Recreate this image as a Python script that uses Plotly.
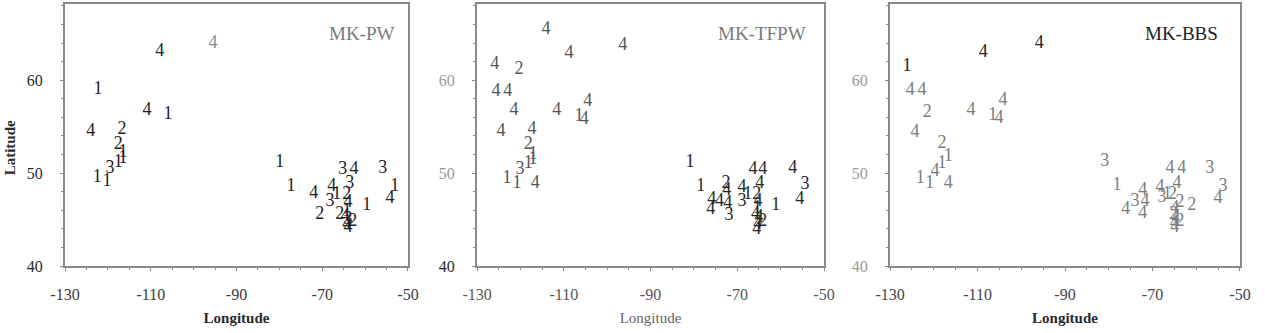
import plotly.graph_objects as go

# ---------------- data ----------------
# Panel 1: MK-PW
pw_lon = [-107.9, -95.5, -122.3, -110.9, -106.0, -124.0, -116.7, -117.6, -116.5, -116.5, -117.6, -119.5, -122.5, -120.2,
          -79.9, -77.3, -72.0, -67.8, -65.2, -62.6, -63.6, -55.9, -53.1, -54.2, -59.6, -66.6, -64.3, -68.2, -70.6,
          -64.0, -64.2, -64.6, -64.0, -64.3, -62.9, -65.9, -64.0]
pw_lat = [63.1, 63.9, 59.0, 56.7, 56.3, 54.5, 54.7, 53.1, 52.2, 51.6, 51.1, 50.5, 49.5, 49.1,
          51.1, 48.6, 47.8, 48.6, 50.4, 50.4, 48.9, 50.5, 48.6, 47.3, 46.5, 47.7, 47.7, 47.0, 45.6,
          46.8, 45.9, 45.3, 45.0, 44.5, 44.8, 45.6, 44.1]
pw_lab = ["4", "4", "1", "4", "1", "4", "2", "2", "1", "1", "1", "3", "1", "1",
          "1", "1", "4", "4", "3", "4", "3", "3", "1", "4", "1", "1", "2", "3", "2",
          "4", "1", "4", "3", "4", "2", "2", "4"]
pw_dark = [1, 0, 1, 1, 1, 1, 1, 1, 1, 1, 1, 1, 1, 1,
           1, 1, 1, 1, 1, 1, 1, 1, 1, 1, 1, 1, 1, 1, 1,
           1, 1, 1, 1, 1, 1, 1, 1]

# Panel 2: MK-TFPW
tf_lon = [-114.1, -108.8, -96.4, -125.9, -120.3, -125.6, -122.9, -121.5, -111.6, -106.5, -105.3, -104.5,
          -124.5, -117.3, -118.2, -117.1, -117.1, -118.2, -120.1, -123.1, -120.8, -116.6,
          -80.9, -78.4, -72.6, -72.4, -75.9, -74.1, -76.1, -72.2, -71.9, -68.9, -68.9, -67.6, -65.5,
          -66.4, -64.1, -64.8, -57.2, -54.4, -55.6, -61.1,
          -65.2, -65.4, -65.8, -65.0, -65.3, -64.1, -65.5]
tf_lat = [65.5, 62.9, 63.7, 61.7, 61.2, 58.8, 58.8, 56.7, 56.7, 56.1, 55.8, 57.7,
          54.5, 54.7, 53.1, 52.0, 51.5, 51.0, 50.4, 49.4, 48.9, 48.9,
          51.1, 48.6, 48.9, 48.1, 47.2, 47.0, 46.1, 46.7, 45.4, 48.4, 47.0, 47.7, 47.7,
          50.4, 50.4, 48.9, 50.5, 48.8, 47.2, 46.5,
          46.9, 46.2, 45.6, 45.2, 44.5, 44.8, 43.9]
tf_lab = ["4", "4", "4", "4", "2", "4", "4", "4", "4", "1", "4", "4",
          "4", "4", "2", "1", "1", "1", "3", "1", "1", "4",
          "1", "1", "2", "4", "4", "4", "4", "4", "3", "4", "3", "1", "2",
          "4", "4", "4", "4", "3", "4", "1",
          "4", "1", "4", "4", "4", "2", "4"]
tf_dark = [0, 0, 0, 0, 0, 0, 0, 0, 0, 0, 0, 0,
           0, 0, 0, 0, 0, 0, 0, 0, 0, 0,
           1, 1, 1, 1, 1, 1, 1, 1, 1, 1, 1, 1, 1,
           1, 1, 1, 1, 1, 1, 1,
           1, 1, 1, 1, 1, 1, 1]

# Panel 3: MK-BBS
bb_lon = [-108.7, -95.9, -126.1, -125.4, -122.7, -121.5, -124.3, -111.5, -106.5, -105.1, -104.2,
          -118.1, -116.7, -118.1, -119.7, -123.1, -120.9, -116.7,
          -80.9, -78.1, -72.2, -76.1, -74.0, -72.2, -71.7, -68.3, -67.8, -66.6, -65.4,
          -66.0, -63.3, -64.4, -56.9, -53.9, -55.0, -61.0, -63.7,
          -64.9, -65.2, -64.7, -65.0, -63.7, -64.9]
bb_lat = [63.0, 63.9, 61.5, 58.9, 58.9, 56.5, 54.4, 56.7, 56.2, 55.9, 57.8,
          53.2, 51.8, 51.0, 50.2, 49.4, 48.9, 48.9,
          51.2, 48.7, 48.1, 46.1, 47.0, 45.7, 47.0, 48.4, 47.4, 47.7, 47.7,
          50.5, 50.5, 48.9, 50.5, 48.6, 47.3, 46.5, 46.8,
          46.2, 45.6, 45.1, 44.6, 44.8, 44.2]
bb_lab = ["4", "4", "1", "4", "4", "2", "4", "4", "1", "4", "4",
          "2", "1", "1", "4", "1", "1", "4",
          "3", "1", "4", "4", "3", "4", "4", "4", "3", "1", "2",
          "4", "4", "4", "3", "3", "4", "2", "2",
          "4", "2", "4", "4", "2", "4"]
bb_dark = [1, 1, 1, 0, 0, 0, 0, 0, 0, 0, 0,
           0, 0, 0, 0, 0, 0, 0,
           0, 0, 0, 0, 0, 0, 0, 0, 0, 0, 0,
           0, 0, 0, 0, 0, 0, 0, 0,
           0, 0, 0, 0, 0, 0]

titles = ["MK-PW", "MK-TFPW", "MK-BBS"]
x_ticks = [-130, -110, -90, -70, -50]
y_ticks = [40, 50, 60]

# ---------------- styling ----------------
FONT = "Liberation Serif"
panels = [
    dict(lon=pw_lon, lat=pw_lat, lab=pw_lab, dark=pw_dark, dcol="#1e1e1e", lcol="#8c8c8c",
         dom=[0.0514, 0.3225], xtick="#3a3a3a", ytick=["#2a2a2a", "#2a2a2a", "#2a2a2a"],
         title_col="#7a7a7a", title_x=0.968, xtitle_col="#2a2a2a", xtitle_bold=True),
    dict(lon=tf_lon, lat=tf_lat, lab=tf_lab, dark=tf_dark, dcol="#262626", lcol="#555555",
         dom=[0.3771, 0.6514], xtick="#555555", ytick=["#2a2a2a", "#9a9a9a", "#9a9a9a"],
         title_col="#7a7a7a", title_x=0.954, xtitle_col="#666666", xtitle_bold=False),
    dict(lon=bb_lon, lat=bb_lat, lab=bb_lab, dark=bb_dark, dcol="#222222", lcol="#7c7c7c",
         dom=[0.7036, 0.9802], xtick="#444444", ytick=["#9a9a9a", "#9a9a9a", "#9a9a9a"],
         title_col="#222222", title_x=0.943, xtitle_col="#2a2a2a", xtitle_bold=True),
]

fig = go.Figure()
annotations = []
for i, p in enumerate(panels, start=1):
    xa = "x" if i == 1 else f"x{i}"
    ya = "y" if i == 1 else f"y{i}"
    colors = [p["dcol"] if d else p["lcol"] for d in p["dark"]]
    fig.add_trace(go.Scatter(
        x=p["lon"], y=p["lat"], text=p["lab"], mode="text",
        textposition="middle center",
        textfont=dict(family=FONT, size=18, color=colors),
        xaxis=xa, yaxis=ya, showlegend=False, hoverinfo="skip"))

    axis_common = dict(showgrid=False, zeroline=False, showline=True, mirror=True,
                       linecolor="#8a8a8a", linewidth=2, ticks="outside", ticklen=3,
                       tickcolor="#8a8a8a", tickwidth=1, automargin=False)
    fig.update_layout(**{
        ("xaxis" if i == 1 else f"xaxis{i}"): dict(
            axis_common, domain=p["dom"], range=[-130, -50], anchor=ya,
            tickvals=x_ticks, ticktext=[str(v) for v in x_ticks],
            tickfont=dict(family=FONT, size=16, color=p["xtick"]),
            ticklabelstandoff=10,
            minor=dict(dtick=5, tick0=-130, ticks="outside", ticklen=2, tickcolor="#8a8a8a"),
            title=dict(text=("<b>Longitude</b>" if p["xtitle_bold"] else "Longitude"),
                       font=dict(family=FONT, size=15, color=p["xtitle_col"]), standoff=10)),
        ("yaxis" if i == 1 else f"yaxis{i}"): dict(
            axis_common, domain=[0.201, 0.988], range=[40, 68.2], anchor=xa,
            tickvals=y_ticks,
            ticktext=[f"<span style='color:{c}'>{v}</span>" for v, c in zip(y_ticks, p["ytick"])],
            tickfont=dict(family=FONT, size=16),
            ticklabelstandoff=14,
            minor=dict(dtick=2, tick0=40, ticks="outside", ticklen=2, tickcolor="#8a8a8a")),
    })
    annotations.append(dict(
        text=titles[i - 1], xref=f"{xa} domain", yref=f"{ya} domain",
        x=p["title_x"], y=0.889, xanchor="right", yanchor="middle", showarrow=False,
        font=dict(family=FONT, size=19, color=p["title_col"])))

annotations.append(dict(
    text="<b>Latitude</b>", xref="paper", yref="paper", x=0.008, y=0.555,
    textangle=-90, showarrow=False, xanchor="center", yanchor="middle",
    font=dict(family=FONT, size=15, color="#2a2a2a")))

fig.update_layout(
    width=1265, height=333, margin=dict(l=0, r=0, t=0, b=0),
    paper_bgcolor="white", plot_bgcolor="white",
    annotations=annotations, showlegend=False)

fig.write_html("out.html")
